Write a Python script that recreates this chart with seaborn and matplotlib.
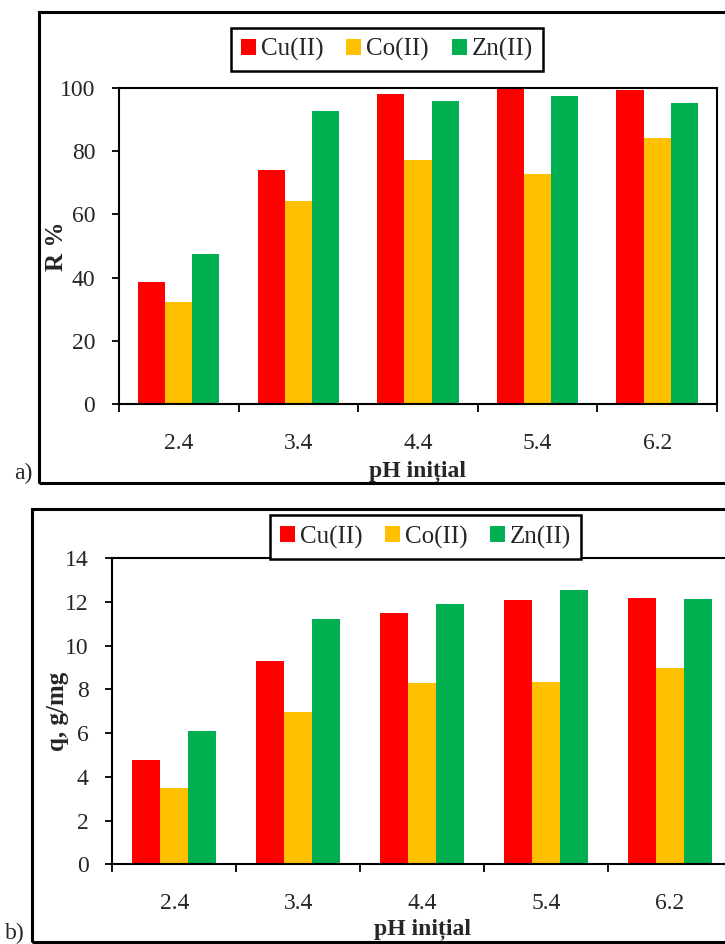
import numpy as np
import pandas as pd
import matplotlib
matplotlib.use("Agg")
import matplotlib.pyplot as plt
from matplotlib.patches import Rectangle
import seaborn as sns

# pH values and metal ions
ph_labels = ["2.4", "3.4", "4.4", "5.4", "6.2"]
ions = ["Cu(II)", "Co(II)", "Zn(II)"]
colors = ["#FF0000", "#FFC000", "#00B050"]

# Removal efficiency, %
r_cu = [38.5, 74.2, 98.0, 99.9, 99.4]
r_co = [32.2, 64.2, 77.2, 72.7, 84.2]
r_zn = [47.6, 92.7, 95.9, 97.5, 95.4]

# Sorption capacity, q
q_cu = [4.76, 9.31, 11.49, 12.10, 12.20]
q_co = [3.49, 6.97, 8.29, 8.32, 8.96]
q_zn = [6.11, 11.20, 11.89, 12.56, 12.15]

y_ticks_a = [0, 20, 40, 60, 80, 100]
y_ticks_b = [0, 2, 4, 6, 8, 10, 12, 14]


def long_table(cu, co, zn, name):
    rows = []
    for ion, vals in zip(ions, [cu, co, zn]):
        for ph, v in zip(ph_labels, vals):
            rows.append({"pH": ph, "Ion": ion, name: v})
    return pd.DataFrame(rows)


df_a = long_table(r_cu, r_co, r_zn, "R")
df_b = long_table(q_cu, q_co, q_zn, "q")

sns.set_style("ticks")
plt.rcParams["font.family"] = ["Liberation Serif", "DejaVu Serif"]
plt.rcParams["axes.linewidth"] = 1.5
FS = 17
FS_LEG = 18

fig = plt.figure(figsize=(7.25, 9.44), dpi=100)

ax_a = fig.add_axes([0.1641, 0.5720, 0.8248, 0.3347])
ax_b = fig.add_axes([0.1549, 0.0844, 0.8545, 0.3242])


def draw_panel(ax, df, col, yticks, ylabel, ylab_x, leg_center):
    sns.barplot(data=df, x="pH", y=col, hue="Ion", order=ph_labels,
                hue_order=ions, palette=colors, saturation=1, width=0.68,
                edgecolor="none", linewidth=0, ax=ax, errorbar=None)
    ax.set_xlim(-0.5, len(ph_labels) - 0.5)
    ax.set_ylim(yticks[0], yticks[-1])
    ax.set_yticks(yticks)
    ax.set_yticklabels([str(t) for t in yticks], fontsize=FS)
    # category boundaries carry the tick marks, centres carry the labels
    ax.set_xticks(np.arange(-0.5, len(ph_labels)), labels=[""] * (len(ph_labels) + 1))
    ax.set_xticks(np.arange(len(ph_labels)), labels=ph_labels, minor=True)
    ax.tick_params(axis="x", which="major", direction="out", length=6, width=1.3,
                   color="black")
    ax.tick_params(axis="x", which="minor", length=0, pad=21, labelsize=FS)
    ax.tick_params(axis="y", direction="out", length=5, width=1.3,
                   color="black", pad=12)
    for s in ax.spines.values():
        s.set_visible(True)
        s.set_color("black")
        s.set_linewidth(1.5)
    ax.set_xlabel("pH inițial", fontsize=FS, fontweight="bold")
    ax.xaxis.set_label_coords(0.5, -0.212)
    ax.xaxis.label.set_verticalalignment("center")
    ax.set_ylabel(ylabel, fontsize=FS_LEG, fontweight="bold")
    ax.yaxis.set_label_coords(ylab_x, 0.5)
    ax.yaxis.label.set_verticalalignment("center")
    handles, labels = ax.get_legend_handles_labels()
    leg = ax.legend(handles, labels, ncol=3, loc="center",
                    bbox_to_anchor=leg_center, bbox_transform=fig.transFigure,
                    fontsize=FS_LEG, frameon=True, fancybox=False,
                    edgecolor="black", framealpha=1, handlelength=0.6,
                    handleheight=0.6, handletextpad=0.2, columnspacing=0.9,
                    borderpad=0.4, borderaxespad=0)
    leg.get_frame().set_linewidth(1.8)


draw_panel(ax_a, df_a, "R", y_ticks_a, "R %", -0.104,
           (387 / 725, 1 - 49.5 / 944))
draw_panel(ax_b, df_b, "q", y_ticks_b, "q, g/mg", -0.089,
           (425.5 / 725, 1 - 537 / 944))

# outer frames around each panel
fig.add_artist(Rectangle((39 / 725, 1 - 483 / 944), 1.0, (483 - 12) / 944,
                         transform=fig.transFigure, fill=False,
                         edgecolor="black", linewidth=2.2, clip_on=False))
fig.add_artist(Rectangle((32 / 725, 1 - 942 / 944), 1.0, (942 - 509) / 944,
                         transform=fig.transFigure, fill=False,
                         edgecolor="black", linewidth=2.2, clip_on=False))

fig.text(23 / 725, 1 - 473 / 944, "a)", fontsize=FS, ha="center", va="center")
fig.text(15 / 725, 1 - 933 / 944, "b)", fontsize=FS, ha="center", va="center")

fig.savefig("out.png", dpi=100)
